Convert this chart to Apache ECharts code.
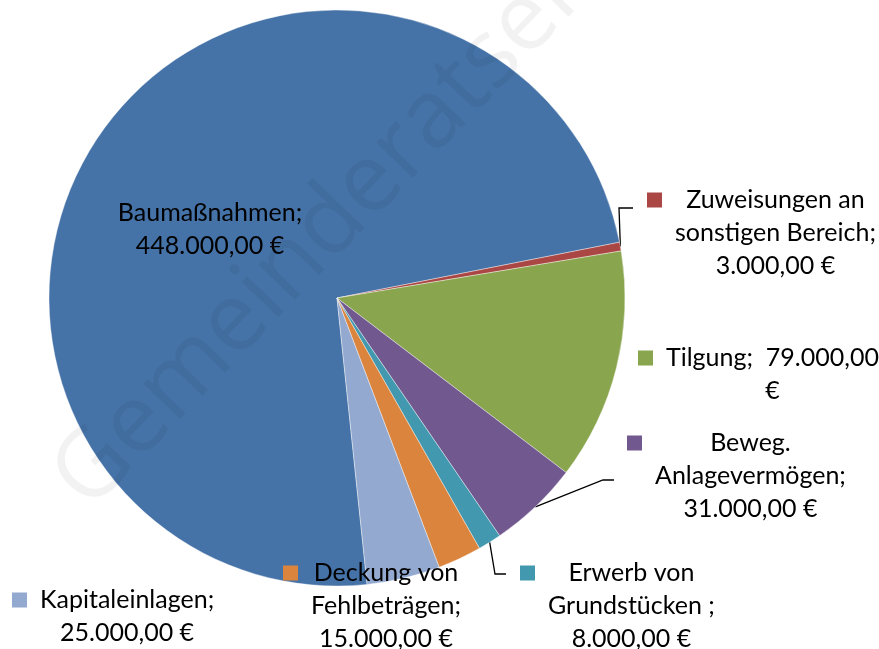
<!DOCTYPE html>
<html>
<head>
<meta charset="utf-8">
<script src="https://cdn.jsdelivr.net/npm/echarts@6/dist/echarts.min.js"></script>
<style>
html, body { margin: 0; padding: 0; background: #fff; }
#show { width: 879px; height: 649px; }
</style>
</head>
<body>
<div id="show"></div>
<script>
var names = ['Baumaßnahmen', 'Zuweisungen an sonstigen Bereich', 'Tilgung', 'Beweg. Anlagevermögen',
    'Erwerb von Grundstücken', 'Deckung von Fehlbeträgen', 'Kapitaleinlagen'];
var values = [448000, 3000, 79000, 31000, 8000, 15000, 25000];
// label text as wrapped in the original
var labelTexts = [
    ['Baumaßnahmen;', '448.000,00 €'],
    ['Zuweisungen an', 'sonstigen Bereich;', '3.000,00 €'],
    ['Tilgung;  79.000,00', '€'],
    ['Beweg.', 'Anlagevermögen;', '31.000,00 €'],
    ['Erwerb von', 'Grundstücken ;', '8.000,00 €'],
    ['Deckung von', 'Fehlbeträgen;', '15.000,00 €'],
    ['Kapitaleinlagen;', '25.000,00 €']
];
var colors = ['#4572A7', '#AA4643', '#89A54E', '#71588F', '#4198AF', '#DB843D', '#93A9CF'];

// label boxes: [x, top, hasKey]
var labelPos = [
    [210, 196, false],
    [647, 183.5, true],
    [638, 341.5, true],
    [627, 426.5, true],
    [520, 556.5, true],
    [283, 556.5, true],
    [12, 583.5, true]
];
// leader lines: bend point and end point
var guides = {
    1: [[619, 208], [633, 208]],
    3: [[603, 480], [614, 480]],
    4: [[495, 574], [506, 574]]
};

var myChart = echarts.init(document.getElementById('show'));

var rich = {
    t: { fontFamily: 'Lato', fontSize: 25, lineHeight: 33, color: '#000', align: 'center' },
    gap: { width: 13, height: 15, align: 'left' },
    pad: { width: 28, height: 15, align: 'left' }
};
colors.forEach(function (c, i) {
    rich['sq' + i] = { width: 15, height: 15, backgroundColor: c, align: 'left' };
});

var data = names.map(function (n, i) {
    var lines = labelTexts[i].map(function (s, k) {
        if (!labelPos[i][2]) return '{t|' + s + '}';
        return (k === 0 ? '{sq' + i + '|}{gap|}' : '{pad|}') + '{t|' + s + '}';
    });
    return {
        name: n,
        value: values[i],
        itemStyle: { color: colors[i] },
        label: {
            position: i === 0 ? 'inside' : 'outside',
            formatter: lines.join('\n')
        },
        labelLine: { show: !!guides[i] }
    };
});

myChart.setOption({
    animation: false,
    graphic: [{
        type: 'text',
        x: 70,
        y: 494,
        rotation: 46 * Math.PI / 180,
        z: 100,
        silent: true,
        style: {
            text: 'Gemeinderatsentwurf',
            font: '95px "Open Sans"',
            fill: 'rgba(0,0,0,0.05)',
            textAlign: 'left',
            textVerticalAlign: 'middle'
        }
    }],
    series: [{
        type: 'pie',
        center: [337, 298],
        radius: 288,
        startAngle: 276,
        clockwise: true,
        avoidLabelOverlap: false,
        data: data,
        itemStyle: { borderColor: '#fff', borderWidth: 0.4 },
        label: {
            show: true,
            fontFamily: 'Lato',
            fontSize: 25,
            lineHeight: 33,
            color: '#000',
            rich: rich
        },
        labelLine: {
            show: true,
            lineStyle: { color: '#000', width: 1.3 }
        },
        emphasis: { disabled: true },
        labelLayout: function (params) {
            var i = params.dataIndex;
            var p = labelPos[i];
            var res = {
                x: p[0],
                y: p[1],
                align: p[2] ? 'left' : 'center',
                verticalAlign: 'top'
            };
            if (guides[i] && params.labelLinePoints) {
                res.labelLinePoints = [params.labelLinePoints[0], guides[i][0], guides[i][1]];
            }
            return res;
        }
    }]
});
</script>
</body>
</html>
